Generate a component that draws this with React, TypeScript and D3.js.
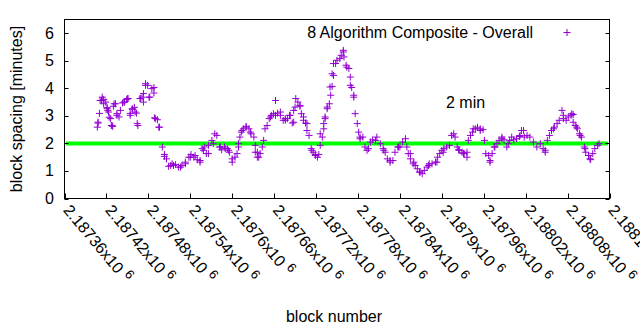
import React from 'react';
import * as d3 from 'd3';

const W = 640;
const H = 330;

const xDomain = [2187360, 2188140];
const yDomain = [0, 6.5];

const xTicks = [2187360, 2187420, 2187480, 2187540, 2187600, 2187660, 2187720, 2187780, 2187840, 2187900, 2187960, 2188020, 2188080, 2188140];
const xTickLabels = ['2.18736', '2.18742', '2.18748', '2.18754', '2.1876', '2.18766', '2.18772', '2.18778', '2.18784', '2.1879', '2.18796', '2.18802', '2.18808', '2.18814'];
const yTicks = [0, 1, 2, 3, 4, 5, 6];

const seriesName = '8 Algorithm Composite - Overall';
const refLabel = '2 min';
const refValue = 2;
const refStart = 2187362;
const refEnd = 2188138;

const blocks = [2187407,2187408,2187410,2187413,2187414,2187416,2187419,2187421,2187422,2187424,2187427,2187429,2187430,2187433,2187435,2187438,2187440,2187443,2187446,2187449,2187451,2187454,2187457,2187460,2187463,2187465,2187468,2187471,2187473,2187476,2187479,2187482,2187485,2187488,2187489,2187493,2187496,2187500,2187503,2187506,2187509,2187514,2187519,2187523,2187528,2187533,2187538,2187541,2187545,2187550,2187554,2187557,2187560,2187563,2187566,2187571,2187575,2187578,2187582,2187585,2187589,2187593,2187596,2187600,2187604,2187607,2187609,2187611,2187613,2187616,2187620,2187624,2187627,2187631,2187633,2187636,2187638,2187640,2187643,2187645,2187647,2187650,2187653,2187656,2187659,2187662,2187665,2187669,2187673,2187676,2187679,2187682,2187686,2187688,2187691,2187694,2187697,2187699,2187702,2187705,2187707,2187710,2187713,2187716,2187719,2187722,2187724,2187726,2187729,2187731,2187733,2187736,2187739,2187741,2187743,2187745,2187748,2187750,2187754,2187756,2187759,2187760,2187763,2187767,2187769,2187771,2187774,2187776,2187779,2187781,2187783,2187787,2187790,2187793,2187795,2187798,2187801,2187805,2187807,2187812,2187816,2187819,2187822,2187826,2187830,2187833,2187837,2187840,2187844,2187848,2187850,2187852,2187855,2187859,2187862,2187865,2187868,2187872,2187875,2187879,2187882,2187886,2187891,2187894,2187897,2187900,2187903,2187907,2187911,2187914,2187917,2187919,2187922,2187925,2187929,2187932,2187936,2187938,2187941,2187944,2187948,2187951,2187955,2187959,2187961,2187963,2187967,2187969,2187972,2187975,2187979,2187982,2187986,2187989,2187993,2187997,2188000,2188003,2188007,2188011,2188014,2188018,2188022,2188026,2188031,2188036,2188041,2188045,2188048,2188051,2188054,2188057,2188061,2188065,2188068,2188072,2188074,2188078,2188081,2188085,2188088,2188091,2188094,2188097,2188100,2188104,2188106,2188110,2188113,2188116,2188119,2188123,2188125,
2187476,2187488,2187481,2187469,2187473,2187450,2187445,2187431,2187411,2187416,
2187421,2187423,2187435,2187408,2187428,2187426,2187457,2187461,2187454,2187464,
2187490,2187495,2187503,2187512,2187516,2187526,2187533,2187540,2187547,2187554,
2187559,2187566,2187573,2187583,2187590,2187595,2187600,2187609,2187614,2187620,
2187626,2187633,2187636,2187655,2187662,2187669,2187676,2187683,2187688,2187690,
2187697,2187702,2187707,2187714,2187719,2187817,2187826,2187838,2187855,2187860,
2187869,2187881,2187893,2187902,2187924,2187931,2187936,2187945,2187955,2187969,
2187976,2187986,2187995,2188012,2188017,2188048,2188060,2188074,2188086,2188088,
2188093,2188098,2188105,2188112,2187759,2187745,2187764,2187743,2187740,2187769,
2187774,2187736,2187733,2187731,2187726,2187783];

const spacing = [2.59,2.74,3.09,3.56,3.68,3.60,3.50,3.30,3.20,2.95,
2.65,2.62,3.35,3.44,3.02,2.96,3.20,3.47,3.50,3.59,
3.63,3.09,3.24,3.31,3.10,2.65,3.63,3.68,3.81,4.17,
4.11,3.68,3.99,4.03,2.93,2.86,2.59,1.87,1.60,1.44,
1.17,1.26,1.23,1.14,1.20,1.32,1.50,1.60,1.50,1.41,
1.32,1.81,1.87,1.63,1.93,2.11,2.35,2.29,1.87,1.77,
1.87,1.81,1.68,1.44,1.50,1.63,1.87,2.23,2.41,2.53,
2.62,2.53,2.35,2.23,1.93,1.68,1.50,1.63,1.87,2.11,
2.53,2.65,2.90,3.02,3.08,3.56,3.10,3.02,2.84,2.84,
2.90,3.02,2.74,3.20,3.63,3.50,3.35,3.08,2.84,2.74,
2.47,2.29,1.81,1.68,1.60,1.50,1.60,1.93,2.23,2.53,
2.90,3.26,3.44,3.75,4.07,4.47,4.90,5.02,5.08,5.20,
5.32,5.14,4.84,4.72,4.41,4.03,3.75,3.08,2.72,2.41,
2.17,2.23,1.87,1.75,1.81,2.05,2.13,2.11,2.23,1.99,
1.81,1.68,1.44,1.32,1.38,1.68,1.87,1.87,2.05,2.17,
1.87,1.63,1.44,1.26,1.20,1.08,0.96,0.90,1.02,1.14,
1.26,1.26,1.32,1.50,1.63,1.75,1.81,1.87,1.93,2.29,
2.35,2.23,1.87,1.75,1.68,1.63,1.68,2.11,2.29,2.41,
2.53,2.59,2.53,2.50,2.11,1.63,1.56,1.38,1.63,1.87,
1.99,2.11,2.23,2.13,1.87,2.11,2.23,2.13,2.17,2.25,
2.47,2.23,2.29,2.23,2.05,1.87,1.99,1.81,1.68,2.11,
2.29,2.47,2.59,2.72,2.84,3.20,3.02,2.84,2.96,3.02,
3.05,2.65,2.53,2.35,2.23,1.87,1.68,1.56,1.41,1.63,
1.81,1.93,1.99,
4.11,3.83,3.68,3.63,3.50,3.63,3.50,3.44,3.56,3.44,
3.26,3.14,3.08,2.77,2.65,2.90,3.26,3.14,3.02,2.72,
2.90,2.59,1.53,1.20,1.20,1.14,1.26,1.50,1.56,1.38,
1.75,1.63,1.99,1.87,1.81,1.75,1.32,1.99,2.47,2.59,
2.41,1.68,1.50,2.96,3.02,3.14,2.90,3.02,2.77,3.32,
3.38,2.96,2.72,1.75,1.56,1.75,1.38,1.87,1.63,1.32,
0.96,1.20,1.32,1.68,1.77,1.63,1.50,2.53,2.47,1.32,
1.87,2.17,1.99,2.29,2.47,1.75,2.53,2.90,3.08,2.77,
2.59,2.29,1.81,1.44,5.38,4.90,4.77,4.53,4.05,4.11,
3.68,3.32,2.96,2.72,2.35,2.23];

const FONT = "'Liberation Sans', Arial, Helvetica, sans-serif";
const PURPLE = '#9400d3';
const GREEN = '#00ff00';

function plusPath(cx: number, cy: number, r: number) {
  const p = d3.path();
  p.moveTo(cx - r, cy);
  p.lineTo(cx + r, cy);
  p.moveTo(cx, cy - r);
  p.lineTo(cx, cy + r);
  return p.toString();
}

export default function App() {
  const x = d3.scaleLinear().domain(xDomain).range([64.5, 609.5]);
  const y = d3.scaleLinear().domain(yDomain).range([198.5, 19.5]);
  const [x0, x1] = x.range();
  const [yb, yt] = y.range();
  const n = Math.min(blocks.length, spacing.length);
  const pts = d3.range(n).map(i => plusPath(x(blocks[i]), y(spacing[i]), 3.5)).join('');

  return (
    <svg width={W} height={H} style={{ position: 'absolute', left: 0, top: 0, background: '#fff' }} fontFamily={FONT} fontSize={16}>
      <rect x={0} y={0} width={W} height={H} fill="#fff" />
      <line x1={x(refStart)} x2={x(refEnd)} y1={y(refValue)} y2={y(refValue)} stroke={GREEN} strokeWidth={4} />
      <path d={pts} stroke={PURPLE} strokeWidth={1} fill="none" />
      <rect x={x0} y={yt} width={x1 - x0} height={yb - yt} fill="none" stroke="#000" strokeWidth={1} />
      {yTicks.map(t => (
        <g key={'y' + t}>
          <line x1={x0} x2={x0 + 4} y1={Math.round(y(t)) + 0.5} y2={Math.round(y(t)) + 0.5} stroke="#000" />
          <line x1={x1} x2={x1 - 4} y1={Math.round(y(t)) + 0.5} y2={Math.round(y(t)) + 0.5} stroke="#000" />
          <text x={54} y={y(t) + 5.5} textAnchor="end" fill="#000">{t}</text>
        </g>
      ))}
      {xTicks.map((t, i) => (
        <g key={'x' + t}>
          <line x1={Math.round(x(t)) + 0.5} x2={Math.round(x(t)) + 0.5} y1={yb} y2={yb - 5} stroke="#000" />
          <text transform={`translate(${x(t) - 2},${yb + 12}) rotate(50)`} fill="#000">
            {xTickLabels[i] + 'x10'}
            <tspan dx={5} dy={-6} fontSize={13}>6</tspan>
          </text>
        </g>
      ))}
      <text transform={`translate(22,${(yb + yt) / 2}) rotate(-90)`} textAnchor="middle" fill="#000">block spacing [minutes]</text>
      <text x={334} y={322} textAnchor="middle" fill="#000">block number</text>
      <text x={533} y={38} textAnchor="end" fill="#000">{seriesName}</text>
      <path d={plusPath(567, 32.5, 3.5)} stroke={PURPLE} strokeWidth={1} />
      <text x={446} y={108} fill="#000">{refLabel}</text>
    </svg>
  );
}
